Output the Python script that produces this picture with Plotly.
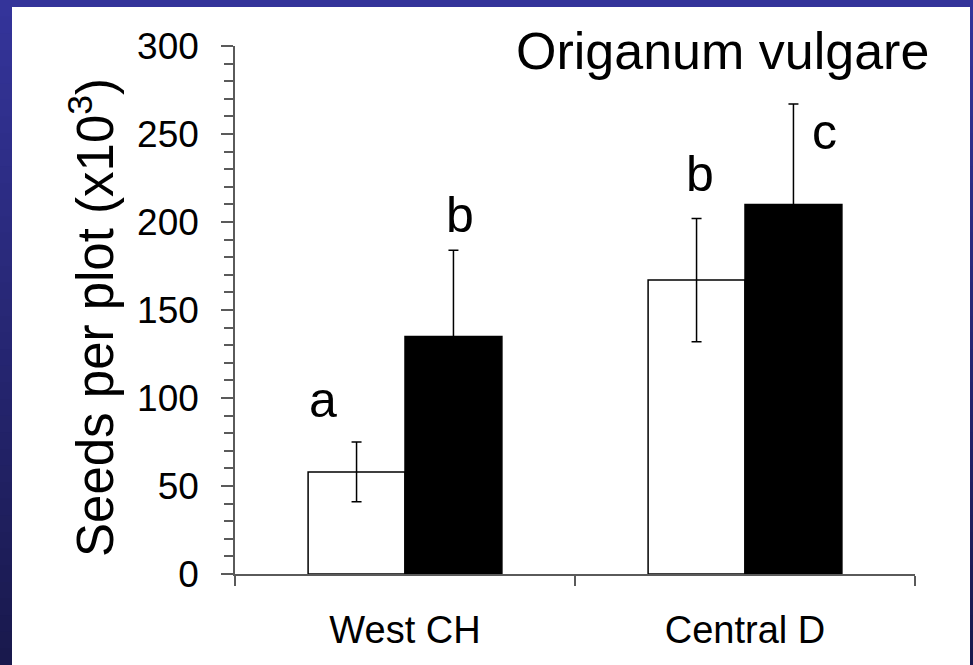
import plotly.graph_objects as go

# ---- data ----
regions = ["West CH", "Central D"]
open_vals = [58, 167]
open_err = [17, 35]
closed_vals = [135, 210]
closed_err = [49, 57]
letters = ["a", "b", "b", "c"]
letter_x = [-0.241, 0.162, 0.868, 1.235]
letter_y = [99, 204, 227, 251]
y_ticks = [0, 50, 100, 150, 200, 250, 300]
title_text = "Origanum vulgare"
y_title = "Seeds per plot (x10<sup>3</sup>)"

W, H = 973, 665
ML, MR, MT, MB = 235, 58, 46, 91
PW, PH = W - ML - MR, H - MT - MB
FONT = "Liberation Sans, Arial, sans-serif"
AX = "#5a5a5a"


def px(xp):
    return (xp - ML) / PW


def py(yp):
    return (H - MB - yp) / PH


fig = go.Figure()
fig.add_trace(go.Bar(
    x=regions, y=open_vals, name="open",
    marker=dict(color="white", line=dict(color="black", width=1.5)),
    error_y=dict(type="data", array=open_err, color="black", thickness=1.5, width=5),
))
fig.add_trace(go.Bar(
    x=regions, y=closed_vals, name="closed",
    marker=dict(color="black", line=dict(color="black", width=1.5)),
    error_y=dict(type="data", array=closed_err, color="black", thickness=1.5, width=5),
))

# background: blue gradient frame + white panel
shapes = []
n = 40
c0 = (52, 52, 154)
c1 = (25, 25, 77)
for i in range(n):
    t = i / (n - 1)
    col = tuple(round(c0[k] + (c1[k] - c0[k]) * t) for k in range(3))
    y_top = H * i / n
    y_bot = H * (i + 1) / n + 1
    shapes.append(dict(type="rect", xref="paper", yref="paper",
                       x0=px(0), x1=px(W), y0=py(y_bot), y1=py(y_top),
                       fillcolor="rgb(%d,%d,%d)" % col, line=dict(width=0), layer="below"))
shapes.append(dict(type="rect", xref="paper", yref="paper",
                   x0=px(12), x1=px(970), y0=py(H + 2), y1=py(7),
                   fillcolor="white", line=dict(width=0), layer="below"))

annotations = []
for t, x, y in zip(letters, letter_x, letter_y):
    annotations.append(dict(text=t, x=x, y=y, xref="x", yref="y", showarrow=False,
                            xanchor="center", yanchor="middle",
                            font=dict(family=FONT, size=50, color="black")))
annotations.append(dict(text=title_text, x=px(931), y=py(51), xref="paper", yref="paper",
                        showarrow=False, xanchor="right", yanchor="middle",
                        font=dict(family=FONT, size=52, color="black")))
annotations.append(dict(text=y_title, x=px(92), y=py(318), xref="paper", yref="paper",
                        showarrow=False, xanchor="center", yanchor="middle", textangle=-90,
                        font=dict(family=FONT, size=51, color="black")))

fig.update_layout(
    width=W, height=H,
    margin=dict(l=ML, r=MR, t=MT, b=MB, pad=0),
    paper_bgcolor="rgb(40,40,120)",
    plot_bgcolor="rgba(0,0,0,0)",
    barmode="group", bargap=0.43, bargroupgap=0,
    showlegend=False,
    shapes=shapes,
    annotations=annotations,
    font=dict(family=FONT, color="black"),
    xaxis=dict(type="category", showgrid=False, zeroline=False,
               showline=True, linecolor=AX, linewidth=1.5,
               ticks="outside", tickson="boundaries", ticklen=10, tickwidth=1.5, tickcolor=AX,
               tickfont=dict(family=FONT, size=38, color="black"),
               ticklabelstandoff=22),
    yaxis=dict(range=[0, 300], tickvals=y_ticks, showgrid=False, zeroline=False,
               showline=True, linecolor=AX, linewidth=1.5,
               ticks="outside", ticklen=12, tickwidth=1.5, tickcolor=AX,
               tickfont=dict(family=FONT, size=37, color="black"),
               ticklabelstandoff=15,
               minor=dict(dtick=10, ticks="outside", ticklen=9, tickwidth=1.5, tickcolor=AX)),
)

fig.write_html("out.html")
